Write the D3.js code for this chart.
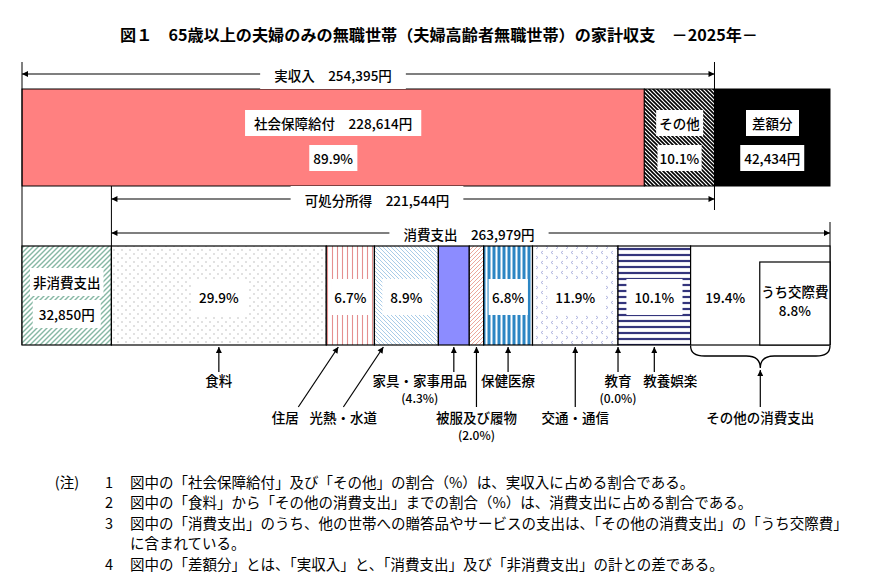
<!DOCTYPE html>
<html>
<head>
<meta charset="utf-8">
<script src="https://cdn.jsdelivr.net/npm/d3@7"></script>
<style>
  body { margin: 0; background: #fff; }
  text { font-family: "Noto Sans CJK JP", "Noto Sans", sans-serif; fill: #000; }
</style>
</head>
<body>
<svg id="drawing_region"></svg>
<script>
// ---- data ----
const titleText = "図１　65歳以上の夫婦のみの無職世帯（夫婦高齢者無職世帯）の家計収支　－2025年－";
const actualIncome = 254395;
const disposableIncome = 221544;
const diffAmount = 42434;
const nonConsumption = 32850;
const consumption = 263979;
const incomeCats = ["社会保障給付", "その他"];
const incomeVals = [228614, 25781];
const incomePct = [89.9, 10.1];
const expCats = ["食料", "住居", "光熱・水道", "家具・家事用品", "被服及び履物", "保健医療", "交通・通信", "教育", "教養娯楽", "その他の消費支出"];
const expPct = [29.9, 6.7, 8.9, 4.3, 2.0, 6.8, 11.9, 0.0, 10.1, 19.4];
const expNote = [null, null, null, "(4.3%)", "(2.0%)", null, null, "(0.0%)", null, null];
const kosaiLabel = "うち交際費";
const kosaiPct = 8.8;
const notes = [
  ["1", "図中の「社会保障給付」及び「その他」の割合（%）は、実収入に占める割合である。"],
  ["2", "図中の「食料」から「その他の消費支出」までの割合（%）は、消費支出に占める割合である。"],
  ["3", "図中の「消費支出」のうち、他の世帯への贈答品やサービスの支出は、「その他の消費支出」の「うち交際費」"],
  ["", "に含まれている。"],
  ["4", "図中の「差額分」とは、「実収入」と、「消費支出」及び「非消費支出」の計との差である。"]
];

// ---- layout ----
const W = 870, H = 587;
const svg = d3.select('#drawing_region').attr('width', W).attr('height', H);
const defs = svg.append('defs');

const x = d3.scaleLinear()
  .domain([0, actualIncome + diffAmount])
  .range([22, 830]);

const bar1 = {top: 89, bottom: 186};
const bar2 = {top: 246, bottom: 345};
const fs = 13.5;

// arrow marker
defs.append('marker')
  .attr('id', 'ah')
  .attr('viewBox', '0 0 10 10')
  .attr('refX', 10).attr('refY', 5)
  .attr('markerWidth', 7).attr('markerHeight', 6)
  .attr('markerUnits', 'userSpaceOnUse')
  .attr('orient', 'auto-start-reverse')
  .append('path').attr('d', 'M0,0 L10,5 L0,10 z').attr('fill', '#000');

// patterns
function linePattern(id, size, lines, color, sw, bg) {
  const p = defs.append('pattern').attr('id', id)
    .attr('patternUnits', 'userSpaceOnUse')
    .attr('width', size).attr('height', size);
  p.append('rect').attr('width', size).attr('height', size).attr('fill', bg || '#fff');
  lines.forEach(d => p.append('path').attr('d', d).attr('stroke', color)
    .attr('stroke-width', sw).attr('fill', 'none'));
  return `url(#${id})`;
}
const s4 = 4, s5 = 5;
const fillOther = linePattern('pOther', s4, [`M0,0 L${s4},${s4}`, `M-1,${s4 - 1} L1,${s4 + 1}`, `M${s4 - 1},-1 L${s4 + 1},1`], '#000', 1.6);
const fillNon = linePattern('pNon', s5, [`M0,${s5} L${s5},0`, `M-1,1 L1,-1`, `M${s5 - 1},${s5 + 1} L${s5 + 1},${s5 - 1}`], '#86b8a4', 1.4);
const fillHousing = linePattern('pHousing', 5, ['M2.5,0 L2.5,5'], '#e58f8f', 1.1);
const fillUtil = linePattern('pUtil', 4, ['M0,0 L4,4', 'M-1,3 L1,5', 'M3,-1 L5,1'], '#a9cce8', 1.0);
const fillCloth = linePattern('pCloth', 4, ['M0,4 L4,0', 'M-1,1 L1,-1', 'M3,5 L5,3'], '#eba79c', 1.0);
const fillHealth = linePattern('pHealth', 5, ['M1.5,0 L1.5,5'], '#fff', 2, '#2c86c4');
const fillEnt = linePattern('pEnt', 6, ['M0,3 L6,3'], '#34357c', 2.2);
// food dots
(function () {
  const p = defs.append('pattern').attr('id', 'pFood')
    .attr('patternUnits', 'userSpaceOnUse').attr('width', 8).attr('height', 8);
  p.append('rect').attr('width', 8).attr('height', 8).attr('fill', '#fff');
  p.append('circle').attr('cx', 2).attr('cy', 2).attr('r', 0.8).attr('fill', '#bcbcbc');
  p.append('circle').attr('cx', 6).attr('cy', 6).attr('r', 0.8).attr('fill', '#bcbcbc');
})();
// transport chevrons
(function () {
  const p = defs.append('pattern').attr('id', 'pTrans')
    .attr('patternUnits', 'userSpaceOnUse').attr('width', 10).attr('height', 10);
  p.append('rect').attr('width', 10).attr('height', 10).attr('fill', '#fff');
  p.append('path').attr('d', 'M3,1 L1,2.5 L3,4').attr('stroke', '#a8addb').attr('stroke-width', 0.9).attr('fill', 'none');
  p.append('path').attr('d', 'M6,6 L8,7.5 L6,9').attr('stroke', '#a8addb').attr('stroke-width', 0.9).attr('fill', 'none');
})();

const incomeFills = ['#ff8080', fillOther];
const expFills = ['url(#pFood)', fillHousing, fillUtil, '#8c8cff', fillCloth, fillHealth, 'url(#pTrans)', '#fff', fillEnt, '#fff'];

// label helper: text with white box behind
function boxLabel(g, cx, cy, str, opt) {
  opt = opt || {};
  const grp = g.append('g');
  const t = grp.append('text')
    .attr('x', cx).attr('y', cy)
    .attr('text-anchor', 'middle')
    .attr('dominant-baseline', 'central')
    .attr('font-size', opt.size || fs)
    .attr('font-weight', 500)
    .text(str);
  if (opt.box !== false) {
    const b = t.node().getBBox();
    const px = opt.padX != null ? opt.padX : 5, py = opt.padY != null ? opt.padY : 3;
    grp.insert('rect', 'text')
      .attr('x', b.x - px).attr('y', b.y - py)
      .attr('width', b.width + 2 * px).attr('height', b.height + 2 * py)
      .attr('fill', '#fff');
  }
  return grp;
}

// title
svg.append('text')
  .attr('x', 439).attr('y', 34)
  .attr('text-anchor', 'middle').attr('dominant-baseline', 'central')
  .attr('font-size', 15.5).attr('font-weight', 'bold')
  .attr('textLength', 638).attr('lengthAdjust', 'spacingAndGlyphs')
  .text(titleText);

const chart = svg.append('g');
const fmt = d3.format(',');

// ---- top bar (income) ----
let acc = 0;
const incomeSegs = incomeVals.map((v, i) => {
  const s = {name: incomeCats[i], v: v, pct: incomePct[i], x0: acc, x1: acc + v, fill: incomeFills[i]};
  acc += v;
  return s;
});
incomeSegs.push({name: '差額分', v: diffAmount, x0: actualIncome, x1: actualIncome + diffAmount, fill: '#000'});

chart.selectAll('rect.inc')
  .data(incomeSegs)
  .enter()
  .append('rect')
  .attr('class', 'inc')
  .attr('x', d => x(d.x0))
  .attr('y', bar1.top)
  .attr('width', d => x(d.x1) - x(d.x0))
  .attr('height', bar1.bottom - bar1.top)
  .attr('fill', d => d.fill)
  .attr('stroke', '#000').attr('stroke-width', 1);

const yA = bar1.top + 34, yB = bar1.top + 69;
incomeSegs.forEach((d, i) => {
  const cx = (x(d.x0) + x(d.x1)) / 2;
  if (i === 0) {
    boxLabel(chart, cx, yA, `${d.name}　${fmt(d.v)}円`, {padX: 9});
    boxLabel(chart, cx, yB, `${d.pct}%`, {padX: 4});
  } else if (i === 1) {
    boxLabel(chart, cx, yA, d.name, {padX: 3});
    boxLabel(chart, cx, yB, `${d.pct}%`, {padX: 2});
  } else {
    boxLabel(chart, cx, yA, d.name, {padX: 6});
    boxLabel(chart, cx, yB, `${fmt(d.v)}円`, {padX: 4});
  }
});

// ---- bracket arrows ----
function spanArrow(v0, v1, y, str, lx) {
  const g = chart.append('g');
  g.append('line')
    .attr('x1', x(v0)).attr('x2', x(v1)).attr('y1', y).attr('y2', y)
    .attr('stroke', '#000').attr('stroke-width', 1.2)
    .attr('marker-start', 'url(#ah)').attr('marker-end', 'url(#ah)');
  boxLabel(g, lx, y + 1, str, {padX: 14, padY: 4});
}
spanArrow(0, actualIncome, 74, `実収入　${fmt(actualIncome)}円`, 333);
spanArrow(nonConsumption, nonConsumption + disposableIncome, 199, `可処分所得　${fmt(disposableIncome)}円`, 377);
spanArrow(nonConsumption, nonConsumption + consumption, 233, `消費支出　${fmt(consumption)}円`, 469);

// vertical guide lines
const vlines = [
  [0, 62, bar2.bottom],
  [actualIncome, 62, 210],
  [nonConsumption, bar1.bottom, bar2.bottom],
  [nonConsumption + consumption, 222, bar2.bottom]
];
chart.selectAll('line.guide')
  .data(vlines)
  .enter()
  .append('line')
  .attr('class', 'guide')
  .attr('x1', d => x(d[0])).attr('x2', d => x(d[0]))
  .attr('y1', d => d[1]).attr('y2', d => d[2])
  .attr('stroke', '#000').attr('stroke-width', 1);

// ---- second bar (expenditure) ----
acc = nonConsumption;
const expSegs = expPct.map((p, i) => {
  const v = consumption * p / 100;
  const s = {name: expCats[i], pct: p, x0: acc, x1: acc + v, fill: expFills[i], note: expNote[i]};
  acc += v;
  return s;
});

chart.append('rect')
  .attr('x', x(0)).attr('y', bar2.top)
  .attr('width', x(nonConsumption) - x(0))
  .attr('height', bar2.bottom - bar2.top)
  .attr('fill', fillNon).attr('stroke', '#000').attr('stroke-width', 1.2);

chart.selectAll('rect.exp')
  .data(expSegs.filter(d => d.pct > 0))
  .enter()
  .append('rect')
  .attr('class', 'exp')
  .attr('x', d => x(d.x0))
  .attr('y', bar2.top)
  .attr('width', d => x(d.x1) - x(d.x0))
  .attr('height', bar2.bottom - bar2.top)
  .attr('fill', d => d.fill)
  .attr('stroke', '#000').attr('stroke-width', 1.2);

// kosai sub box
const lastSeg = expSegs[expSegs.length - 1];
const kx0 = x(lastSeg.x1 - consumption * kosaiPct / 100) - 7;
chart.append('rect')
  .attr('x', kx0).attr('y', bar2.top + 16)
  .attr('width', x(lastSeg.x1) - kx0)
  .attr('height', bar2.bottom - bar2.top - 16)
  .attr('fill', '#fff').attr('stroke', '#000').attr('stroke-width', 1.2);
boxLabel(chart, (kx0 + x(lastSeg.x1)) / 2, 291, kosaiLabel, {box: false});
boxLabel(chart, (kx0 + x(lastSeg.x1)) / 2, 310, `${kosaiPct}%`, {box: false});

// non-consumption labels
const ncx = (x(0) + x(nonConsumption)) / 2;
boxLabel(chart, ncx, 282, '非消費支出', {padX: 3, padY: 4});
boxLabel(chart, ncx, 314, `${fmt(nonConsumption)}円`, {padX: 6, padY: 4});

// percent labels inside bar
const pctY = 297;
expSegs.forEach((d, i) => {
  if (i === 3 || i === 4 || i === 7) return;
  let cx = (x(d.x0) + x(d.x1)) / 2;
  if (i === expSegs.length - 1) cx = (x(d.x0) + kx0) / 2;
  const w = x(d.x1) - x(d.x0);
  boxLabel(chart, cx, pctY, `${d.pct}%`, {padX: Math.min(8, Math.max(3, (w - 42) / 2)), padY: 8});
});

// ---- category annotations below ----
// tip: fraction of segment width; row: label line; diag/dx: offsets relative to the tip
const annot = [
  {tip: 0.5, row: 1},
  {tip: 0.25, row: 2, diag: -40, dx: -53},
  {tip: 0.14, row: 2, diag: -40, dx: -40},
  {tip: 0.5, row: 1, dx: -34},
  {tip: 0.5, row: 2},
  {tip: 0.5, row: 1},
  {tip: 0.5, row: 2},
  {tip: 0.5, row: 1},
  {tip: 0.5, row: 1, dx: 16},
  {tip: 0.5, row: 2, brace: true}
];
const rowY = {1: 380, 2: 417};
const lineBot = {1: 372, 2: 407};
const tipY = bar2.bottom + 2;

expSegs.forEach((d, i) => {
  const a = annot[i];
  const tx = x(d.x0) + (x(d.x1) - x(d.x0)) * a.tip;
  const g = chart.append('g');
  if (a.brace) {
    const x0 = x(d.x0), x1 = x(d.x1), m = (x0 + x1) / 2, y0 = bar2.bottom + 1, yc = y0 + 10, yt = y0 + 22;
    g.append('path')
      .attr('d', `M${x0},${y0} Q${x0},${yc} ${x0 + 14},${yc} L${m - 14},${yc} Q${m},${yc} ${m},${yt} Q${m},${yc} ${m + 14},${yc} L${x1 - 14},${yc} Q${x1},${yc} ${x1},${y0}`)
      .attr('fill', 'none').attr('stroke', '#000').attr('stroke-width', 1.3);
    g.append('line')
      .attr('x1', m).attr('x2', m).attr('y1', lineBot[a.row]).attr('y2', yt + 2)
      .attr('stroke', '#000').attr('stroke-width', 1.2).attr('marker-end', 'url(#ah)');
  } else {
    const bx = tx + (a.diag || 0);
    g.append('line')
      .attr('x1', bx).attr('x2', tx).attr('y1', lineBot[a.row]).attr('y2', tipY)
      .attr('stroke', '#000').attr('stroke-width', 1.2).attr('marker-end', 'url(#ah)');
  }
  const lx = (a.brace ? (x(d.x0) + x(d.x1)) / 2 : tx) + (a.dx || 0);
  boxLabel(g, lx, rowY[a.row], d.name, {box: false});
  if (d.note) boxLabel(g, lx, rowY[a.row] + 17, d.note, {box: false, size: 12});
});

// ---- notes ----
const nfs = 14.5;
const notesG = svg.append('g');
notesG.append('text').attr('x', 67).attr('y', 481).attr('text-anchor', 'middle')
  .attr('dominant-baseline', 'central').attr('font-size', nfs).text('(注)');
notes.forEach((n, i) => {
  const y = 481 + i * 20.5;
  notesG.append('text').attr('x', 109).attr('y', y).attr('text-anchor', 'middle')
    .attr('dominant-baseline', 'central').attr('font-size', nfs).text(n[0]);
  notesG.append('text').attr('x', 130).attr('y', y)
    .attr('dominant-baseline', 'central').attr('font-size', nfs).text(n[1]);
});
</script>
</body>
</html>
